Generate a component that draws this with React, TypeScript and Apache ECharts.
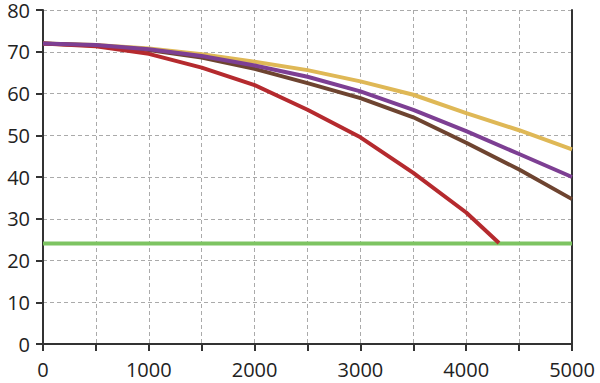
import React, { useEffect, useRef } from "react";
import * as echarts from "echarts";

const xValues = [0, 500, 1000, 1500, 2000, 2500, 3000, 3500, 4000, 4500, 5000];
const yellowValues = [72, 71.6, 70.8, 69.4, 67.6, 65.6, 62.9, 59.7, 55.3, 51.2, 46.6];
const purpleValues = [72, 71.6, 70.6, 69.0, 66.7, 64.0, 60.5, 56.1, 51.0, 45.5, 40.0];
const brownValues = [72, 71.5, 70.4, 68.6, 65.9, 62.5, 58.9, 54.3, 48.2, 41.8, 34.7];
const redX = [0, 500, 1000, 1500, 2000, 2500, 3000, 3500, 4000, 4310];
const redValues = [72, 71.3, 69.5, 66.2, 62.0, 56.1, 49.5, 41.0, 31.5, 24.2];
const greenX = [0, 5000];
const greenValues = [24.1, 24.1];

const pairs = (xs: number[], ys: number[]) => xs.map((x, i) => [x, ys[i]]);

export default function App() {
  const ref = useRef<HTMLDivElement>(null);
  useEffect(() => {
    const chart = echarts.init(ref.current!, undefined, { renderer: "svg" });
    const font = "'Open Sans', 'Noto Sans', sans-serif";
    const lineStyle = (c: string) => ({ color: c, width: 4 });
    chart.setOption({
      animation: false,
      grid: { left: 43, right: 28, top: 8, bottom: 39 },
      xAxis: {
        type: "value",
        min: 0,
        max: 5000,
        interval: 500,
        axisLine: { show: true, lineStyle: { color: "#333", width: 2 } },
        axisTick: { show: true, length: 7, lineStyle: { color: "#333", width: 2 } },
        axisLabel: {
          margin: 15,
          fontSize: 20,
          fontFamily: font,
          color: "#222",
          formatter: (v: number) => (v % 1000 === 0 ? String(v) : ""),
        },
        splitLine: { show: true, lineStyle: { color: "#aaa", type: [4, 3], width: 1 } },
      },
      yAxis: [
        {
          type: "value",
          min: 0,
          max: 80,
          interval: 10,
          axisLine: { show: true, lineStyle: { color: "#333", width: 2 } },
          axisTick: { show: true, length: 7, lineStyle: { color: "#333", width: 2 } },
          axisLabel: { margin: 13, fontSize: 20, fontFamily: font, color: "#222" },
          splitLine: { show: true, lineStyle: { color: "#aaa", type: [4, 3], width: 1 } },
        },
        {
          type: "value",
          position: "right",
          min: 0,
          max: 80,
          interval: 10,
          axisLine: { show: true, lineStyle: { color: "#333", width: 2 } },
          axisTick: { show: false },
          axisLabel: { show: false },
          splitLine: { show: false },
        },
      ],
      series: [
        { type: "line", data: pairs(greenX, greenValues), symbol: "none", lineStyle: lineStyle("#7dc462") },
        { type: "line", data: pairs(xValues, yellowValues), symbol: "none", lineStyle: lineStyle("#dfb856") },
        { type: "line", data: pairs(xValues, brownValues), symbol: "none", lineStyle: lineStyle("#6e4430") },
        { type: "line", data: pairs(redX, redValues), symbol: "none", lineStyle: lineStyle("#b52a2e") },
        { type: "line", data: pairs(xValues, purpleValues), symbol: "none", lineStyle: lineStyle("#7d3f93") },
      ],
    });
    return () => chart.dispose();
  }, []);
  return <div ref={ref} style={{ width: 600, height: 383, position: "absolute", left: 0, top: 0 }} />;
}
